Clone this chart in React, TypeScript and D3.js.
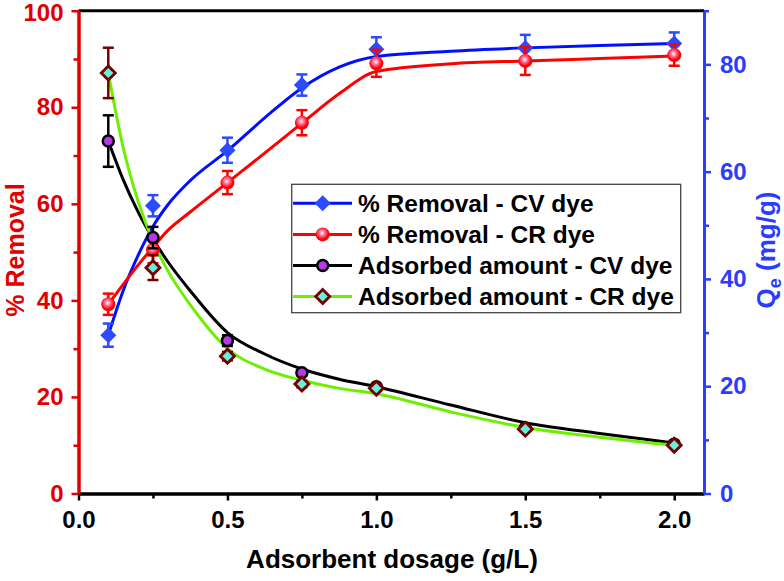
import React, { useEffect, useRef } from 'react';
import * as d3 from 'd3';

// measured points
const dosage = [0.1, 0.25, 0.5, 0.75, 1.0, 1.5, 2.0];
const removalCV = [32.8, 59.6, 71.1, 84.6, 92.0, 92.3, 93.2];
const removalCVErr = [2.4, 2.2, 2.6, 2.2, 2.5, 2.7, 2.3];
const removalCR = [39.2, 50.5, 64.4, 76.8, 89.1, 89.6, 90.8];
const removalCRErr = [2.2, 2.8, 2.4, 2.6, 2.8, 2.9, 2.2];
const qeCV = [65.7, 47.7, 28.5, 22.5, 19.9, 12.2, 9.2];
const qeCVErr = [4.8, 2.0, 1.0, 0.5, 0.3, 0.3, 0.3];
const qeCR = [78.4, 42.1, 25.6, 20.4, 19.6, 12.0, 9.0];
const qeCRErr = [4.7, 2.3, 0.8, 0.6, 0.4, 0.4, 0.3];

// fitted curves
const fitX = [0.1, 0.15, 0.2, 0.25, 0.3, 0.375, 0.5, 0.625, 0.75, 0.875, 1.0, 1.25, 1.5, 1.75, 2.0];
const fitRemovalCV = [32.8, 42, 49.3, 55.3, 59.8, 64.8, 71, 77.8, 84, 88.3, 90.5, 91.6, 92.3, 92.8, 93.2];
const fitRemovalCR = [39.2, 43.3, 47.3, 51, 54.5, 58.3, 64.4, 70.5, 76.7, 82.8, 87.4, 89.0, 89.6, 90.1, 90.6];
const fitQeCV = [65.7, 58.5, 52.5, 47.5, 43.2, 37.8, 30.0, 26.0, 23.2, 21.3, 19.9, 16.5, 13.2, 11.2, 9.4];
const fitQeCR = [78.4, 64.5, 54.5, 47.0, 41.5, 35.2, 27.0, 23.2, 21.1, 19.6, 18.6, 15.2, 12.3, 10.5, 9.0];

const xMajor = [0, 0.5, 1.0, 1.5, 2.0];
const xMinor = [0.25, 0.75, 1.25, 1.75];
const leftMajor = [0, 20, 40, 60, 80, 100];
const leftMinor = [10, 30, 50, 70, 90];
const rightMajor = [0, 20, 40, 60, 80];
const rightMinor = [10, 30, 50, 70, 90];

const legendLabels = [
    '% Removal - CV dye',
    '% Removal - CR dye',
    'Adsorbed amount - CV dye',
    'Adsorbed amount - CR dye',
];

const FONT = '"Liberation Sans", Arial, sans-serif';
const RED_AXIS = '#e00000';
const BLUE_AXIS = '#2a3cff';
const DARK_RED = '#740000';

const App = () => {
    const ref = useRef<SVGSVGElement>(null);

    useEffect(() => {
        const svg = d3.select(ref.current);
        svg.selectAll('*').remove();

        const x = d3.scaleLinear().domain([0, 2.1]).range([78.5, 704]);
        const yL = d3.scaleLinear().domain([0, 100]).range([493.5, 10.7]);
        const yR = d3.scaleLinear().domain([0, 90]).range([493.5, 10.7]);

        const defs = svg.append('defs');
        const grad = defs.append('radialGradient').attr('id', 'ball').attr('cx', '0.45').attr('cy', '0.4').attr('r', '0.6');
        grad.append('stop').attr('offset', '0%').attr('stop-color', '#ffffff');
        grad.append('stop').attr('offset', '30%').attr('stop-color', '#ff7fa8');
        grad.append('stop').attr('offset', '75%').attr('stop-color', '#ff0000');

        // axes
        const styleAxis = (g, color, size) => {
            g.select('.domain').attr('stroke', color).attr('stroke-width', 3);
            g.selectAll('.tick line').attr('stroke', color).attr('stroke-width', 2.5);
            g.selectAll('.tick text')
                .attr('fill', color)
                .style('font-family', FONT)
                .style('font-weight', 'bold')
                .style('font-size', size + 'px');
        };

        const bottom = svg.append('g').attr('transform', `translate(0, ${yL(0)})`);
        bottom.append('g').call(d3.axisBottom(x).tickValues(xMinor).tickSize(5).tickSizeOuter(0).tickFormat(() => ''))
            .call(g => styleAxis(g, '#000', 24));
        bottom.append('g').call(d3.axisBottom(x).tickValues(xMajor).tickSize(7).tickSizeOuter(0).tickPadding(10).tickFormat(d3.format('.1f')))
            .call(g => styleAxis(g, '#000', 24));

        svg.append('line')
            .attr('x1', x(0)).attr('x2', x(2.1))
            .attr('y1', yL(100)).attr('y2', yL(100))
            .attr('stroke', '#000').attr('stroke-width', 3);

        const left = svg.append('g').attr('transform', `translate(${x(0)}, 0)`);
        left.append('g').call(d3.axisLeft(yL).tickValues(leftMinor).tickSize(5).tickSizeOuter(0).tickFormat(() => ''))
            .call(g => styleAxis(g, RED_AXIS, 24));
        left.append('g').call(d3.axisLeft(yL).tickValues(leftMajor).tickSize(7).tickSizeOuter(0).tickPadding(8))
            .call(g => styleAxis(g, RED_AXIS, 24));
        // keep the top label inside the picture
        left.selectAll('.tick text').filter(d => d === 100).attr('dy', '0.42em');

        const right = svg.append('g').attr('transform', `translate(${x(2.1)}, 0)`);
        right.append('g').call(d3.axisRight(yR).tickValues(rightMinor).tickSize(5).tickSizeOuter(0).tickFormat(() => ''))
            .call(g => styleAxis(g, BLUE_AXIS, 24));
        right.append('g').call(d3.axisRight(yR).tickValues(rightMajor).tickSize(7).tickSizeOuter(0).tickPadding(9))
            .call(g => styleAxis(g, BLUE_AXIS, 24));

        // axis titles
        svg.append('text')
            .attr('x', 392).attr('y', 568)
            .attr('text-anchor', 'middle')
            .style('font-family', FONT).style('font-weight', 'bold').style('font-size', '26px')
            .text('Adsorbent dosage (g/L)');

        svg.append('text')
            .attr('transform', 'translate(24, 250) rotate(-90)')
            .attr('text-anchor', 'middle')
            .attr('fill', RED_AXIS)
            .style('font-family', FONT).style('font-weight', 'bold').style('font-size', '25px')
            .text('% Removal');

        const rt = svg.append('text')
            .attr('transform', 'translate(775, 250) rotate(-90)')
            .attr('text-anchor', 'middle')
            .attr('fill', BLUE_AXIS)
            .style('font-family', FONT).style('font-weight', 'bold').style('font-size', '26px');
        rt.append('tspan').text('Q');
        rt.append('tspan').attr('dy', 6).style('font-size', '18px').text('e');
        rt.append('tspan').attr('dy', -6).text(' (mg/g)');

        // series definitions
        const series = [
            { fit: fitRemovalCV, pts: removalCV, err: removalCVErr, y: yL, line: '#0010ff', errColor: '#2a4bff', marker: 'blueDiamond' },
            { fit: fitRemovalCR, pts: removalCR, err: removalCRErr, y: yL, line: '#ff0000', errColor: '#ff0000', marker: 'ball' },
            { fit: fitQeCV, pts: qeCV, err: qeCVErr, y: yR, line: '#000000', errColor: '#000000', marker: 'purple' },
            { fit: fitQeCR, pts: qeCR, err: qeCRErr, y: yR, line: '#6cf000', errColor: DARK_RED, marker: 'cyanDiamond' },
        ];

        const drawMarker = (g, kind, cx, cy) => {
            if (kind === 'blueDiamond') {
                g.append('path').attr('d', `M${cx},${cy - 8}L${cx + 8},${cy}L${cx},${cy + 8}L${cx - 8},${cy}Z`).attr('fill', '#2a4bff');
            } else if (kind === 'ball') {
                g.append('circle').attr('cx', cx).attr('cy', cy).attr('r', 7).attr('fill', 'url(#ball)');
            } else if (kind === 'purple') {
                g.append('circle').attr('cx', cx).attr('cy', cy).attr('r', 5.5)
                    .attr('fill', '#b838e8').attr('stroke', '#000').attr('stroke-width', 2.5);
            } else {
                g.append('path').attr('d', `M${cx},${cy - 7}L${cx + 7},${cy}L${cx},${cy + 7}L${cx - 7},${cy}Z`)
                    .attr('fill', '#6af0d8').attr('stroke', DARK_RED).attr('stroke-width', 2.8);
            }
        };

        series.forEach(s => {
            const line = d3.line<number>()
                .x((d, i) => x(fitX[i]))
                .y(d => s.y(d))
                .curve(d3.curveMonotoneX);
            svg.append('path').attr('d', line(s.fit)).attr('fill', 'none')
                .attr('stroke', s.line).attr('stroke-width', 3);
        });

        series.forEach(s => {
            const g = svg.append('g');
            s.pts.forEach((v, i) => {
                const cx = x(dosage[i]);
                const top = s.y(v + s.err[i]);
                const bot = s.y(v - s.err[i]);
                g.append('line').attr('x1', cx).attr('x2', cx).attr('y1', top).attr('y2', bot)
                    .attr('stroke', s.errColor).attr('stroke-width', 2.5);
                [top, bot].forEach(yy => {
                    g.append('line').attr('x1', cx - 5.5).attr('x2', cx + 5.5).attr('y1', yy).attr('y2', yy)
                        .attr('stroke', s.errColor).attr('stroke-width', 2.5);
                });
                drawMarker(g, s.marker, cx, s.y(v));
            });
        });

        // legend
        const lg = svg.append('g');
        lg.append('rect').attr('x', 291.7).attr('y', 184.3).attr('width', 389).attr('height', 128.4)
            .attr('fill', '#fff').attr('stroke', '#444').attr('stroke-width', 1.3);
        legendLabels.forEach((label, i) => {
            const yy = 203.3 + i * 31.1;
            lg.append('line').attr('x1', 293).attr('x2', 352).attr('y1', yy).attr('y2', yy)
                .attr('stroke', series[i].line).attr('stroke-width', 3);
            drawMarker(lg, series[i].marker, 322.7, yy);
            lg.append('text').attr('x', 358).attr('y', yy + 8.5)
                .style('font-family', FONT).style('font-weight', 'bold').style('font-size', '24.5px')
                .text(label);
        });
    }, []);

    return (
        <svg ref={ref} width={784} height={581} style={{ position: 'absolute', left: 0, top: 0, background: '#fff' }}></svg>
    );
};

export default App;
